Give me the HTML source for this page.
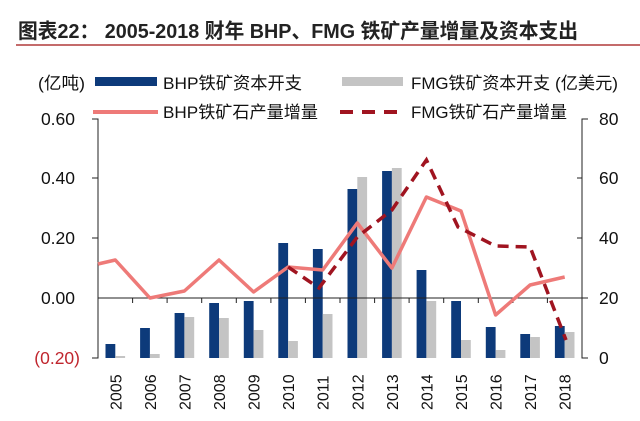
<!DOCTYPE html><html><head><meta charset="utf-8"><style>
body{margin:0;background:#fff;width:640px;height:416px;overflow:hidden;font-family:"Liberation Sans","Noto Sans CJK SC",sans-serif}
</style></head><body>
<svg width="640" height="416" xmlns="http://www.w3.org/2000/svg" font-family="Liberation Sans, Noto Sans CJK SC, sans-serif">
<text x="18" y="38" font-size="20.5" font-weight="bold" fill="#222" textLength="560" lengthAdjust="spacingAndGlyphs">图表22：  2005-2018 财年 BHP、FMG 铁矿产量增量及资本支出</text>
<line x1="16" y1="45" x2="640" y2="45" stroke="#b03a3a" stroke-width="1.5"/>
<text x="38" y="89" font-size="17" fill="#111" textLength="47" lengthAdjust="spacingAndGlyphs">(亿吨)</text>
<rect x="95" y="77" width="62" height="9" fill="#0d3a7a"/>
<text x="163" y="89" font-size="17" fill="#111" textLength="139" lengthAdjust="spacingAndGlyphs">BHP铁矿资本开支</text>
<rect x="342" y="77" width="61" height="9" fill="#c4c4c4"/>
<text x="411" y="89" font-size="17" fill="#111" textLength="139" lengthAdjust="spacingAndGlyphs">FMG铁矿资本开支</text>
<text x="555" y="89" font-size="17" fill="#111" textLength="63" lengthAdjust="spacingAndGlyphs">(亿美元)</text>
<line x1="93" y1="112" x2="158" y2="112" stroke="#ee7a78" stroke-width="4"/>
<text x="163" y="118" font-size="17" fill="#111" textLength="155" lengthAdjust="spacingAndGlyphs">BHP铁矿石产量增量</text>
<line x1="340" y1="112" x2="403" y2="112" stroke="#a01420" stroke-width="4" stroke-dasharray="13,9"/>
<text x="411" y="118" font-size="17" fill="#111" textLength="156" lengthAdjust="spacingAndGlyphs">FMG铁矿石产量增量</text>
<g font-size="17.5" fill="#111" text-anchor="end">
<text x="75" y="125">0.60</text><text x="75" y="184">0.40</text><text x="75" y="244">0.20</text><text x="75" y="304">0.00</text><text x="80" y="364" fill="#c0262e">(0.20)</text>
</g>
<g font-size="17.5" fill="#111">
<text x="599" y="125">80</text><text x="599" y="184">60</text><text x="599" y="244">40</text><text x="599" y="304">20</text><text x="599" y="364">0</text>
</g>
<g stroke="#222" stroke-width="1" fill="none">
<path d="M92 119H98V358H92M92 178H98M92 238H98"/>
<path d="M588 119H582V358H588M577 178H582M577 238H582"/>
</g>
<g fill="#0d3a7a">
<rect x="105.5" y="344" width="9.8" height="14"/>
<rect x="140.1" y="328" width="9.8" height="30"/>
<rect x="174.6" y="313" width="9.8" height="45"/>
<rect x="209.2" y="303" width="9.8" height="55"/>
<rect x="243.8" y="301" width="9.8" height="57"/>
<rect x="278.3" y="243" width="9.8" height="115"/>
<rect x="312.9" y="249" width="9.8" height="109"/>
<rect x="347.5" y="189" width="9.8" height="169"/>
<rect x="382.1" y="171" width="9.8" height="187"/>
<rect x="416.6" y="270" width="9.8" height="88"/>
<rect x="451.2" y="301" width="9.8" height="57"/>
<rect x="485.8" y="327" width="9.8" height="31"/>
<rect x="520.3" y="334" width="9.8" height="24"/>
<rect x="554.9" y="326" width="9.8" height="32"/>
</g>
<g fill="#c4c4c4">
<rect x="115.3" y="356" width="9.8" height="2"/>
<rect x="149.9" y="354" width="9.8" height="4"/>
<rect x="184.4" y="317" width="9.8" height="41"/>
<rect x="219.0" y="318" width="9.8" height="40"/>
<rect x="253.6" y="330" width="9.8" height="28"/>
<rect x="288.1" y="341" width="9.8" height="17"/>
<rect x="322.7" y="314" width="9.8" height="44"/>
<rect x="357.3" y="177" width="9.8" height="181"/>
<rect x="391.9" y="168" width="9.8" height="190"/>
<rect x="426.4" y="301" width="9.8" height="57"/>
<rect x="461.0" y="340" width="9.8" height="18"/>
<rect x="495.6" y="350" width="9.8" height="8"/>
<rect x="530.1" y="337" width="9.8" height="21"/>
<rect x="564.7" y="332" width="9.8" height="26"/>
</g>
<line x1="98" y1="298" x2="588" y2="298" stroke="#222"/>
<path stroke="#222" d="M132.6 298v5M167.1 298v5M201.7 298v5M236.3 298v5M270.9 298v5M305.4 298v5M340 298v5M374.6 298v5M409.1 298v5M443.7 298v5M478.3 298v5M512.9 298v5M547.4 298v5"/>
<polyline fill="none" stroke="#ee7a78" stroke-width="3.5" stroke-linejoin="round" points="98,264 115.3,260 149.9,298 184.4,291 219,260 253.6,292 288.1,267 322.7,270 357.3,223 391.9,268 426.4,197 461,211 495.6,315 530.1,285 564.7,277"/>
<polyline fill="none" stroke="#a01420" stroke-width="3.5" stroke-dasharray="11,7" points="288.1,267 319,288 357.3,237 391.9,210 426.4,160 458,227 495.6,246 530.1,247 566,340"/>
<g font-size="16" fill="#111">
<text transform="translate(121.3,410) rotate(-90)">2005</text>
<text transform="translate(155.9,410) rotate(-90)">2006</text>
<text transform="translate(190.4,410) rotate(-90)">2007</text>
<text transform="translate(225,410) rotate(-90)">2008</text>
<text transform="translate(259.6,410) rotate(-90)">2009</text>
<text transform="translate(294.1,410) rotate(-90)">2010</text>
<text transform="translate(328.7,410) rotate(-90)">2011</text>
<text transform="translate(363.3,410) rotate(-90)">2012</text>
<text transform="translate(397.9,410) rotate(-90)">2013</text>
<text transform="translate(432.4,410) rotate(-90)">2014</text>
<text transform="translate(467,410) rotate(-90)">2015</text>
<text transform="translate(501.6,410) rotate(-90)">2016</text>
<text transform="translate(536.1,410) rotate(-90)">2017</text>
<text transform="translate(570.7,410) rotate(-90)">2018</text>
</g>
</svg></body></html>
